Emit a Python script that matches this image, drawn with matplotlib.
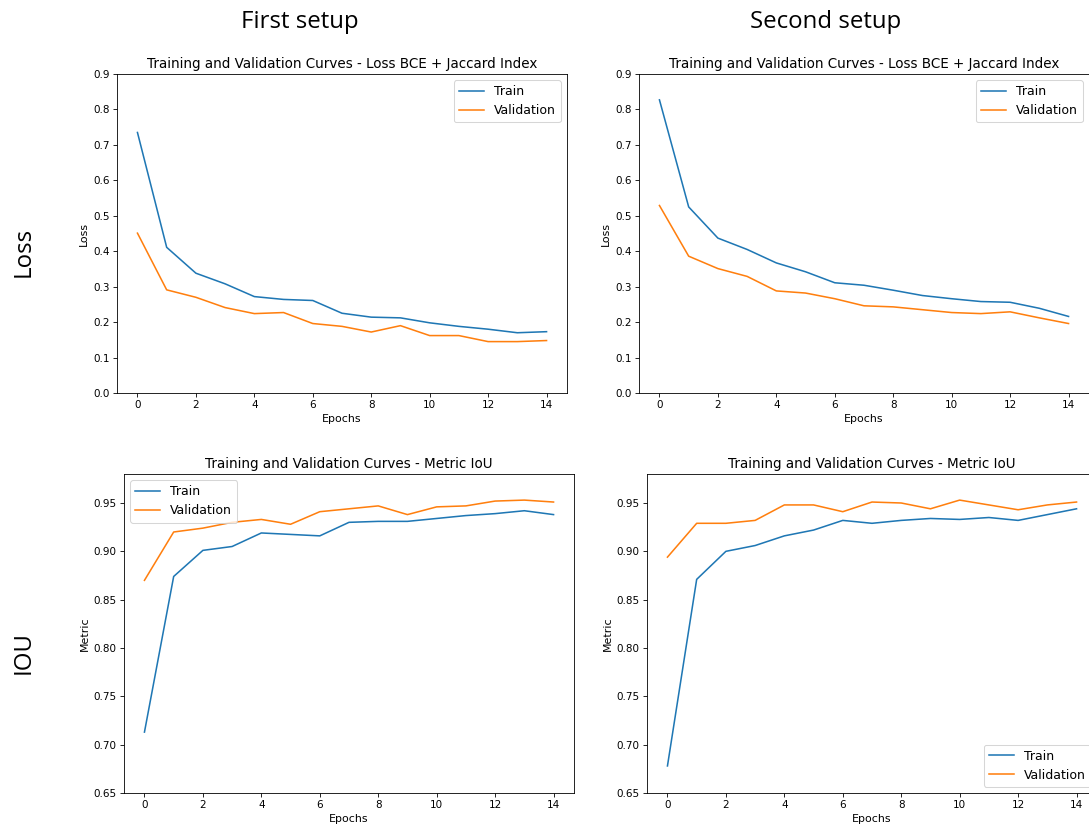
import matplotlib
matplotlib.use("Agg")
import matplotlib.pyplot as plt

epochs = list(range(15))

# first setup
loss_train_1 = [0.735, 0.411, 0.338, 0.308, 0.272, 0.264, 0.261, 0.225, 0.214, 0.212, 0.198, 0.188, 0.180, 0.170, 0.173]
loss_val_1 = [0.451, 0.291, 0.270, 0.241, 0.224, 0.227, 0.196, 0.188, 0.172, 0.190, 0.162, 0.162, 0.145, 0.145, 0.148]
iou_train_1 = [0.713, 0.874, 0.901, 0.905, 0.919, 0.9175, 0.916, 0.930, 0.931, 0.931, 0.934, 0.937, 0.939, 0.942, 0.938]
iou_val_1 = [0.870, 0.920, 0.924, 0.930, 0.933, 0.928, 0.941, 0.944, 0.947, 0.938, 0.946, 0.947, 0.952, 0.953, 0.951]

# second setup
loss_train_2 = [0.827, 0.525, 0.437, 0.405, 0.367, 0.342, 0.311, 0.304, 0.290, 0.275, 0.266, 0.258, 0.256, 0.239, 0.216]
loss_val_2 = [0.529, 0.386, 0.351, 0.329, 0.288, 0.282, 0.266, 0.246, 0.243, 0.235, 0.227, 0.224, 0.229, 0.212, 0.196]
iou_train_2 = [0.678, 0.871, 0.900, 0.906, 0.916, 0.922, 0.932, 0.929, 0.932, 0.934, 0.933, 0.935, 0.932, 0.938, 0.944]
iou_val_2 = [0.894, 0.929, 0.929, 0.932, 0.948, 0.948, 0.941, 0.951, 0.950, 0.944, 0.953, 0.948, 0.943, 0.948, 0.951]

col_titles = ["First setup", "Second setup"]
row_titles = ["Loss", "IOU"]
loss_title = "Training and Validation Curves - Loss BCE + Jaccard Index"
iou_title = "Training and Validation Curves - Metric IoU"

W, H = 1089, 832
dpi = 75
fig = plt.figure(figsize=(W / dpi, H / dpi), dpi=dpi)

def px_axes(x0, y0, x1, y1):
    return fig.add_axes([x0 / W, 1 - y1 / H, (x1 - x0) / W, (y1 - y0) / H])

panels = [
    (px_axes(117, 74, 567, 393), loss_train_1, loss_val_1, "loss", "upper right"),
    (px_axes(639, 74, 1089, 393), loss_train_2, loss_val_2, "loss", "upper right"),
    (px_axes(124, 474, 574, 793), iou_train_1, iou_val_1, "iou", "upper left"),
    (px_axes(647, 474, 1097, 793), iou_train_2, iou_val_2, "iou", "lower right"),
]

for ax, tr, va, kind, loc in panels:
    ax.plot(epochs, tr, label="Train")
    ax.plot(epochs, va, label="Validation")
    ax.set_xticks(range(0, 15, 2))
    ax.set_xlabel("Epochs", fontsize=10.5)
    if kind == "loss":
        ax.set_title(loss_title, fontsize=13)
        ax.set_ylabel("Loss", fontsize=10.5)
        ax.set_ylim(0, 0.9)
        ax.set_yticks([i / 10 for i in range(10)])
    else:
        ax.set_title(iou_title, fontsize=13)
        ax.set_ylabel("Metric", fontsize=10.5)
        ax.set_ylim(0.65, 0.98)
        ax.set_yticks([0.65, 0.70, 0.75, 0.80, 0.85, 0.90, 0.95])
    ax.legend(loc=loc, fontsize=12)

fig.text(300 / W, 1 - 22 / H, col_titles[0], ha="center", va="center", fontsize=23, family="Open Sans")
fig.text(826 / W, 1 - 22 / H, col_titles[1], ha="center", va="center", fontsize=23, family="Open Sans")
fig.text(24 / W, 1 - 252 / H, row_titles[0], ha="center", va="center", rotation=90, fontsize=23, family="Open Sans")
fig.text(24 / W, 1 - 653 / H, row_titles[1], ha="center", va="center", rotation=90, fontsize=23, family="Open Sans")

fig.savefig("out.png", dpi=dpi)
